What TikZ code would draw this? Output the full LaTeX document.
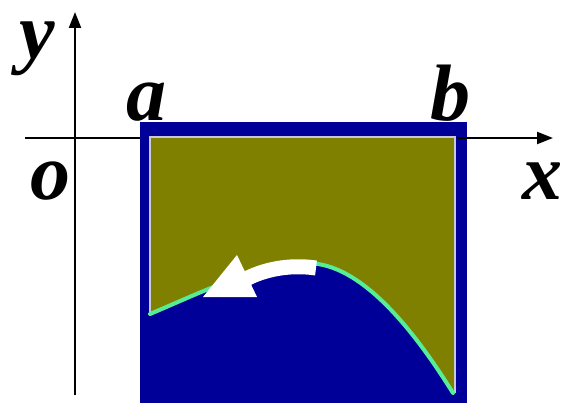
\documentclass[tikz,border=0pt]{standalone}
\usepackage{fontspec}
\setmainfont{Liberation Serif}
\usetikzlibrary{arrows.meta}
\definecolor{bgblue}{RGB}{0,0,153}
\definecolor{olivefill}{RGB}{128,128,0}
\definecolor{curvegreen}{RGB}{85,238,150}
\definecolor{edgegray}{RGB}{200,200,215}
\tikzset{
  axis/.style={line width=2.2pt, -{Triangle[length=16pt,width=12pt]}},
  axisplain/.style={line width=2.2pt},
  lbl/.style={font=\fontsize{80}{80}\selectfont\bfseries\itshape, inner sep=0pt, anchor=base, text height=0.68em, text depth=0.2em},
}
\begin{document}
\begin{tikzpicture}[x=1pt,y=-1pt]
\useasboundingbox (0,0) rectangle (567,404);
% axes coordinates
\coordinate (xs) at (25,138);
\coordinate (xl) at (140,138);
\coordinate (xr) at (457,138);
\coordinate (xe) at (553,138);
\coordinate (ys) at (75,395);
\coordinate (ye) at (75,12);
\draw[axisplain] (xs) -- (xl);
\draw[axis] (ys) -- (ye);
% blue panel
\fill[bgblue] (140,122) rectangle (467,403);
% curve end points
\coordinate (c0) at (150,314);
\coordinate (c1) at (318,264);
\coordinate (c2) at (453,393);
% olive region
\fill[olivefill] (c0) -- (150,137) -- (455,137) -- (455,393) -- (c2)
  .. controls (420,340) and (370,272) .. (c1)
  .. controls (270,258) and (200,293) .. (c0) -- cycle;
\draw[edgegray, line width=1.8pt] (c0) -- (150,137) -- (455,137) -- (455,393);
\draw[curvegreen, line width=4pt, line cap=round] (c0)
  .. controls (200,293) and (270,258) .. (c1)
  .. controls (370,272) and (420,340) .. (c2);
% white arrow
\coordinate (as) at (316,268);
\coordinate (ae) at (246,279);
\draw[white, line width=15pt] (as) .. controls (288,264) and (263,270) .. (ae);
\fill[white] (237,255) -- (203,297) -- (257,297) -- cycle;
% right part of x axis
\draw[axis] (xr) -- (xe);
% labels
\node[lbl] (ly) at (37,59) {y};
\node[lbl] (la) at (146,120) {a};
\node[lbl] (lb) at (450,120) {b};
\node[lbl] (lo) at (50,199) {o};
\node[lbl] (lx) at (542,199) {x};
\end{tikzpicture}
\end{document}
